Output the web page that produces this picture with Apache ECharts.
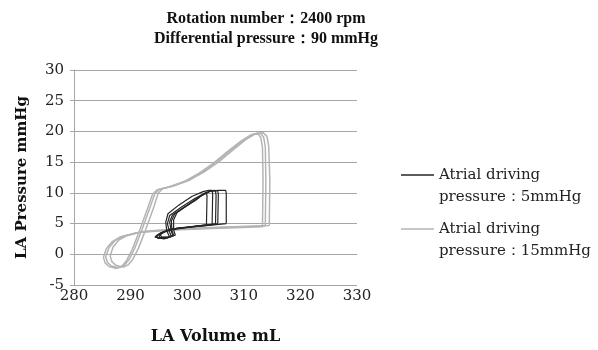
<!DOCTYPE html>
<html>
<head>
<meta charset="utf-8">
<script src="https://cdn.jsdelivr.net/npm/echarts@6/dist/echarts.min.js"></script>
<style>
  html, body { margin: 0; padding: 0; background: #fff; }
  #chart { width: 598px; height: 350px; }
</style>
</head>
<body>
<div id="chart"></div>
<script>
// LA pressure-volume loops, several beats per driving pressure
const titleLines = ['Rotation number：2400 rpm', 'Differential pressure：90 mmHg'];
const xTicks = [280, 290, 300, 310, 320, 330];
const yTicks = [-5, 0, 5, 10, 15, 20, 25, 30];

const name5 = 'Atrial driving pressure：5mmHg';
const name15 = 'Atrial driving pressure：15mmHg';

// 5 mmHg beats  [volume mL, pressure mmHg]
const beat5a = [[305.0, 4.9], [301.0, 4.5], [297.6, 4.1], [295.6, 3.6], [294.6, 3.0], [294.8, 2.6], [296.2, 2.6], [297.2, 2.9], [296.9, 3.6], [296.5, 5.0], [296.9, 6.3], [299.0, 7.7], [301.2, 9.0], [303.2, 10.0], [304.2, 10.3], [305.0, 10.3], [305.1, 9.6], [305.0, 4.9]];
const beat5b = [[304.4, 4.8], [300.5, 4.4], [297.2, 4.0], [295.2, 3.4], [294.3, 2.8], [294.6, 2.5], [295.9, 2.5], [296.9, 2.8], [296.4, 3.8], [296.2, 5.2], [296.6, 6.6], [298.5, 8.0], [300.8, 9.4], [302.8, 10.2], [303.8, 10.4], [304.4, 10.4], [304.5, 9.8], [304.4, 4.8]];
const beat5c = [[303.4, 4.8], [300.0, 4.4], [297.0, 4.1], [295.4, 3.5], [294.5, 3.0], [294.9, 2.7], [296.4, 2.7], [297.5, 3.0], [297.2, 3.7], [296.9, 5.3], [297.4, 6.4], [299.4, 7.6], [301.5, 8.8], [302.9, 9.8], [303.4, 10.0], [303.5, 9.5], [303.4, 4.8]];
const beat5d = [[305.4, 5.0], [301.5, 4.6], [298.0, 4.2], [296.0, 3.7], [295.0, 3.1], [295.2, 2.7], [296.6, 2.8], [297.6, 3.1], [297.3, 3.9], [297.2, 5.4], [297.8, 6.6], [300.0, 8.0], [302.0, 9.3], [303.8, 10.2], [304.8, 10.4], [305.4, 10.3], [305.5, 9.7], [305.4, 5.0]];
const beat5e = [[306.9, 5.0], [302.5, 4.6], [298.5, 4.3], [296.3, 3.8], [295.2, 3.2], [295.5, 2.8], [296.9, 2.8], [297.9, 3.1], [297.6, 4.0], [297.6, 5.6], [298.2, 6.8], [300.4, 8.2], [302.4, 9.5], [304.2, 10.3], [305.5, 10.4], [306.8, 10.4], [306.9, 9.9], [306.9, 5.0]];

// 15 mmHg beats
const beat15a = [[313.8, 4.6], [305.0, 4.3], [297.0, 4.0], [291.5, 3.6], [288.6, 2.9], [287.2, 2.2], [286.2, 1.1], [285.6, -0.4], [285.9, -1.3], [286.6, -1.9], [287.9, -2.2], [288.9, -1.8], [289.7, -0.9], [290.7, 0.9], [292.0, 4.0], [293.3, 7.3], [294.3, 9.9], [295.1, 10.6], [297.0, 11.0], [300.0, 12.0], [302.5, 13.3], [305.0, 14.9], [307.5, 16.8], [310.0, 18.6], [311.8, 19.6], [312.9, 19.7], [313.5, 19.1], [313.8, 17.5], [313.9, 12.0], [313.8, 4.6]];
const beat15b = [[314.5, 4.7], [305.5, 4.4], [297.5, 4.1], [292.2, 3.7], [289.3, 3.0], [287.9, 2.3], [286.9, 1.2], [286.4, -0.3], [286.7, -1.2], [287.4, -1.8], [288.7, -2.1], [289.6, -1.7], [290.4, -0.8], [291.4, 1.0], [292.7, 4.1], [294.0, 7.4], [294.9, 10.0], [295.7, 10.7], [297.6, 11.1], [300.5, 12.1], [303.0, 13.4], [305.5, 15.0], [308.0, 16.9], [310.4, 18.7], [312.2, 19.7], [313.4, 19.8], [314.1, 19.2], [314.4, 17.6], [314.6, 12.0], [314.5, 4.7]];
const beat15c = [[313.3, 4.5], [304.5, 4.2], [296.5, 3.9], [291.0, 3.5], [288.1, 2.8], [286.7, 2.0], [285.7, 0.9], [285.2, -0.5], [285.5, -1.4], [286.2, -2.0], [287.5, -2.3], [288.5, -1.9], [289.3, -1.0], [290.3, 0.8], [291.6, 3.9], [292.9, 7.2], [293.9, 9.8], [294.7, 10.5], [296.6, 10.9], [299.6, 11.9], [302.1, 13.2], [304.6, 14.8], [307.1, 16.7], [309.6, 18.5], [311.4, 19.5], [312.5, 19.6], [313.0, 19.0], [313.3, 17.4], [313.4, 12.0], [313.3, 4.5]];

const beats5 = [beat5a, beat5b, beat5c, beat5d, beat5e];
const beats15 = [beat15a, beat15b, beat15c];

const FONT = 'DejaVu Serif';
const gridColor = '#a6a6a6';
const gray = '#b4b4b4';
const dark = '#262626';

const chart = echarts.init(document.getElementById('chart'));

const series = [];
for (const d of beats15) {
  series.push({
    name: name15,
    type: 'line',
    data: d,
    symbol: 'none',
    lineStyle: { color: gray, width: 1.5 },
    itemStyle: { color: gray }
  });
}
for (const d of beats5) {
  series.push({
    name: name5,
    type: 'line',
    data: d,
    symbol: 'none',
    lineStyle: { color: dark, width: 1.2 },
    itemStyle: { color: dark }
  });
}

// a leading blank line keeps the icon level with the first text line
const legendBase = {
  orient: 'vertical',
  left: 401,
  padding: 0,
  icon: 'rect',
  itemWidth: 33,
  itemHeight: 1.5,
  itemGap: 4,
  formatter: (n) => '\n' + n.replace('driving ', 'driving\n'),
  textStyle: {
    fontFamily: FONT,
    fontSize: 15,
    color: '#222',
    lineHeight: 22
  }
};

const option = {
  animation: false,
  title: {
    text: titleLines.join('\n'),
    left: 261,
    textAlign: 'center',
    top: 4,
    textStyle: {
      fontFamily: 'Liberation Serif',
      fontSize: 16,
      fontWeight: 'bold',
      color: '#111',
      lineHeight: 20
    }
  },
  legend: [
    Object.assign({}, legendBase, { data: [name5], top: 142 }),
    Object.assign({}, legendBase, { data: [name15], top: 196 })
  ],
  grid: {
    left: 74,
    right: 241,
    top: 70,
    bottom: 61,
    containLabel: false
  },
  xAxis: {
    type: 'value',
    min: xTicks[0],
    max: xTicks[xTicks.length - 1],
    interval: 10,
    name: 'LA Volume mL',
    nameLocation: 'middle',
    nameGap: 44,
    nameTextStyle: { fontFamily: FONT, fontSize: 16, fontWeight: 'bold', color: '#111' },
    axisLine: { show: true, lineStyle: { color: gridColor } },
    axisTick: { show: false },
    splitLine: { show: false },
    axisLabel: { fontFamily: FONT, fontSize: 15, color: '#222', margin: 4 }
  },
  yAxis: {
    type: 'value',
    min: yTicks[0],
    max: yTicks[yTicks.length - 1],
    interval: 5,
    name: 'LA Pressure mmHg',
    nameLocation: 'middle',
    nameGap: 44,
    nameTextStyle: { fontFamily: FONT, fontSize: 15, fontWeight: 'bold', color: '#111' },
    axisLine: { show: true, onZero: false, lineStyle: { color: gridColor } },
    axisTick: { show: true, length: 4, lineStyle: { color: gridColor } },
    splitLine: { show: true, lineStyle: { color: gridColor, width: 1 } },
    axisLabel: { fontFamily: FONT, fontSize: 15, color: '#222', margin: 10 }
  },
  series: series
};

chart.setOption(option);
</script>
</body>
</html>
